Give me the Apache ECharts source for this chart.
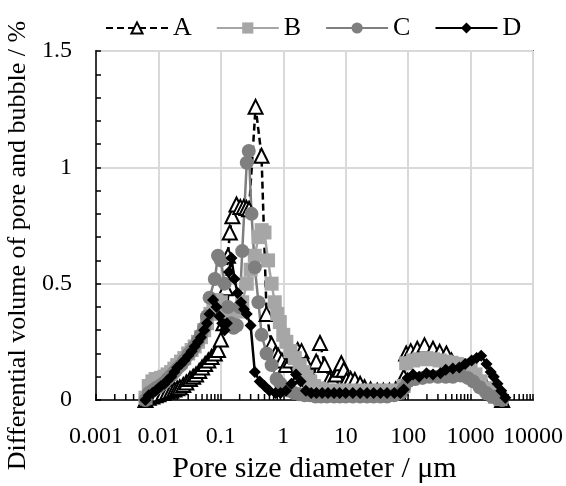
<!DOCTYPE html>
<html>
<head>
<meta charset="utf-8">
<script src="https://cdn.jsdelivr.net/npm/echarts@6/dist/echarts.min.js"></script>
<style>
html, body { margin: 0; padding: 0; background: #fff; }
#container { width: 566px; height: 486px; }
</style>
</head>
<body>
<div id="container"></div>
<script>
var seriesNames = ['A', 'B', 'C', 'D'];
var xTickLabels = ['0.001', '0.01', '0.1', '1', '10', '100', '1000', '10000'];

var aX = [0.0062, 0.007, 0.008, 0.009, 0.01, 0.012, 0.014, 0.016, 0.018, 0.02, 0.022, 0.025, 0.028, 0.032, 0.036, 0.04, 0.045, 0.05, 0.056, 0.063, 0.071, 0.08, 0.09, 0.1, 0.11, 0.12, 0.13, 0.139, 0.153, 0.178, 0.205, 0.233, 0.257, 0.283, 0.36, 0.448, 0.54, 0.65, 0.75, 0.83, 0.95, 1.1, 1.3, 1.5, 1.7, 1.96, 2.3, 2.7, 3.0, 3.37, 3.87, 4.6, 5.5, 6.2, 7.0, 8.0, 8.5, 9.3, 10.3, 12, 14, 17, 20, 25, 32, 40, 50, 63, 75, 85, 93, 110, 140, 183, 250, 320, 410, 495, 600, 750, 900, 1100, 1400, 1700, 2100, 2600, 3200];
var aY = [0.0, 0.01, 0.015, 0.02, 0.025, 0.03, 0.035, 0.04, 0.045, 0.05, 0.055, 0.065, 0.075, 0.09, 0.1, 0.11, 0.125, 0.14, 0.155, 0.17, 0.185, 0.2, 0.215, 0.26, 0.33, 0.48, 0.62, 0.72, 0.79, 0.84, 0.83, 0.83, 0.825, 0.82, 1.26, 1.05, 0.37, 0.24, 0.2, 0.19, 0.17, 0.15, 0.17, 0.19, 0.215, 0.21, 0.16, 0.11, 0.08, 0.165, 0.245, 0.15, 0.09, 0.086, 0.11, 0.13, 0.158, 0.13, 0.086, 0.09, 0.086, 0.07, 0.055, 0.045, 0.04, 0.04, 0.04, 0.045, 0.05, 0.1, 0.2, 0.21, 0.22, 0.235, 0.22, 0.207, 0.2, 0.17, 0.15, 0.14, 0.13, 0.12, 0.09, 0.07, 0.04, 0.02, 0.0];

var bX = [0.0062, 0.007, 0.008, 0.009, 0.01, 0.011, 0.0125, 0.014, 0.016, 0.018, 0.02, 0.023, 0.026, 0.03, 0.034, 0.038, 0.043, 0.048, 0.054, 0.06, 0.068, 0.076, 0.085, 0.1, 0.12, 0.15, 0.19, 0.22, 0.26, 0.3, 0.35, 0.4, 0.45, 0.5, 0.57, 0.65, 0.73, 0.8, 0.88, 1.0, 1.12, 1.3, 1.53, 1.83, 2.1, 2.36, 2.7, 3.1, 3.6, 4.2, 5, 6, 7.5, 9, 11, 14, 18, 23, 30, 38, 48, 60, 75, 85, 93, 120, 150, 197, 250, 320, 400, 495, 600, 720, 850, 1000, 1200, 1450, 1750, 2100, 2500, 3000];
var bY = [0.01, 0.06, 0.08, 0.09, 0.09, 0.095, 0.1, 0.11, 0.12, 0.135, 0.15, 0.165, 0.18, 0.2, 0.215, 0.23, 0.25, 0.27, 0.3, 0.33, 0.37, 0.4, 0.43, 0.42, 0.38, 0.36, 0.38, 0.42, 0.5, 0.56, 0.62, 0.7, 0.73, 0.72, 0.6, 0.5, 0.42, 0.37, 0.335, 0.28, 0.25, 0.21, 0.18, 0.15, 0.12, 0.1, 0.08, 0.06, 0.05, 0.045, 0.04, 0.04, 0.04, 0.04, 0.04, 0.04, 0.04, 0.04, 0.04, 0.04, 0.04, 0.04, 0.04, 0.06, 0.158, 0.17, 0.175, 0.18, 0.175, 0.17, 0.165, 0.16, 0.155, 0.15, 0.14, 0.13, 0.11, 0.08, 0.05, 0.03, 0.015, 0.005];

var cX = [0.0062, 0.007, 0.008, 0.009, 0.01, 0.011, 0.0125, 0.014, 0.016, 0.018, 0.02, 0.023, 0.026, 0.03, 0.034, 0.038, 0.043, 0.048, 0.054, 0.06, 0.066, 0.08, 0.09, 0.1, 0.115, 0.13, 0.145, 0.16, 0.18, 0.2, 0.22, 0.26, 0.28, 0.31, 0.35, 0.4, 0.45, 0.54, 0.65, 0.78, 0.9, 1.05, 1.25, 1.5, 1.8, 2.2, 2.7, 3.3, 4, 5, 6.5, 8, 10, 13, 17, 22, 28, 36, 46, 60, 75, 85, 100, 130, 170, 220, 300, 400, 520, 700, 900, 1100, 1400, 1800, 2200, 2700, 3200];
var cY = [0.0, 0.03, 0.04, 0.05, 0.055, 0.065, 0.075, 0.09, 0.105, 0.12, 0.135, 0.15, 0.17, 0.195, 0.21, 0.23, 0.255, 0.28, 0.31, 0.36, 0.44, 0.52, 0.62, 0.6, 0.5, 0.4, 0.33, 0.31, 0.32, 0.4, 0.64, 1.02, 1.07, 0.8, 0.57, 0.42, 0.28, 0.2, 0.15, 0.09, 0.07, 0.05, 0.04, 0.03, 0.025, 0.02, 0.02, 0.015, 0.015, 0.015, 0.015, 0.015, 0.015, 0.015, 0.015, 0.015, 0.015, 0.015, 0.015, 0.02, 0.03, 0.05, 0.08, 0.09, 0.095, 0.1, 0.1, 0.1, 0.1, 0.105, 0.095, 0.08, 0.055, 0.03, 0.015, 0.005, 0.0];

var dX = [0.0062, 0.007, 0.008, 0.009, 0.01, 0.011, 0.0125, 0.014, 0.016, 0.018, 0.02, 0.023, 0.026, 0.03, 0.034, 0.038, 0.043, 0.048, 0.054, 0.06, 0.066, 0.075, 0.085, 0.095, 0.105, 0.115, 0.125, 0.135, 0.148, 0.165, 0.185, 0.21, 0.235, 0.26, 0.3, 0.35, 0.42, 0.5, 0.6, 0.75, 0.9, 1.1, 1.35, 1.6, 1.9, 2.3, 2.8, 3.4, 4.2, 5.2, 6.5, 8, 10, 13, 17, 22, 28, 36, 46, 60, 75, 85, 98, 120, 150, 197, 250, 330, 400, 520, 660, 820, 1040, 1250, 1480, 1800, 2100, 2350, 2700, 3100, 3600];
var dY = [0.0, 0.02, 0.03, 0.04, 0.05, 0.06, 0.07, 0.085, 0.1, 0.12, 0.14, 0.155, 0.17, 0.19, 0.21, 0.23, 0.25, 0.27, 0.3, 0.33, 0.37, 0.43, 0.4, 0.36, 0.33, 0.3, 0.33, 0.55, 0.61, 0.52, 0.46, 0.42, 0.39, 0.37, 0.32, 0.12, 0.08, 0.06, 0.04, 0.03, 0.03, 0.04, 0.07, 0.11, 0.08, 0.04, 0.03, 0.03, 0.03, 0.03, 0.03, 0.03, 0.03, 0.03, 0.03, 0.03, 0.03, 0.03, 0.03, 0.03, 0.03, 0.045, 0.095, 0.11, 0.1, 0.115, 0.11, 0.115, 0.13, 0.135, 0.14, 0.155, 0.17, 0.18, 0.19, 0.155, 0.12, 0.1, 0.07, 0.04, 0.01];

function pairs(xs, ys) {
    return xs.map(function (x, i) { return [x, ys[i]]; });
}

// log minor ticks (2..9 in every decade), drawn inside the x axis
var minorTicks = [];
for (var k = -3; k < 4; k++) {
    for (var m = 2; m <= 9; m++) {
        minorTicks.push([m * Math.pow(10, k), 0]);
    }
}

var font = '"Liberation Serif", "Times New Roman", serif';

var dom = document.getElementById('container');
var myChart = echarts.init(dom, null, {renderer: 'canvas'});

var option = {
    animation: false,
    backgroundColor: '#fff',
    textStyle: {fontFamily: font, color: '#000'},
    legend: {
        data: seriesNames,
        top: 10,
        left: 100,
        itemWidth: 62,
        itemHeight: 14,
        itemGap: 24,
        textStyle: {fontFamily: font, fontSize: 26, color: '#000'}
    },
    grid: {
        left: 96,
        right: 33,
        top: 51,
        bottom: 86,
        show: true,
        borderColor: '#000',
        borderWidth: 1.5,
        containLabel: false,
        outerBoundsMode: 'none'
    },
    xAxis: {
        type: 'log',
        logBase: 10,
        min: 0.001,
        max: 10000,
        name: 'Pore size diameter / \u03bcm',
        nameLocation: 'middle',
        nameGap: 52,
        nameTextStyle: {fontFamily: font, fontSize: 30, color: '#000'},
        axisLine: {lineStyle: {color: '#000', width: 1.5}},
        axisTick: {show: true, inside: true, length: 6, lineStyle: {color: '#000', width: 1.5}},
        axisLabel: {
            fontFamily: font, fontSize: 24, color: '#000', margin: 25,
            formatter: function (v) {
                return xTickLabels[Math.round(Math.log10(v)) + 3];
            }
        },
        splitLine: {show: true, lineStyle: {color: '#d9d9d9', width: 2}}
    },
    yAxis: {
        type: 'value',
        min: 0,
        max: 1.5,
        interval: 0.5,
        name: 'Differential volume of pore and bubble / %',
        nameLocation: 'middle',
        nameGap: 62,
        nameTextStyle: {fontFamily: font, fontSize: 26, color: '#000', padding: [0, 40, 0, 0]},
        axisLine: {show: true, lineStyle: {color: '#000', width: 1.5}},
        axisTick: {show: true, inside: true, length: 5, lineStyle: {color: '#000', width: 1.5}},
        minorTick: {show: true, splitNumber: 5, length: 5, lineStyle: {color: '#000', width: 1.5}},
        axisLabel: {fontFamily: font, fontSize: 24, color: '#000', margin: 24},
        splitLine: {show: true, lineStyle: {color: '#d9d9d9', width: 2}}
    },
    series: [
        {
            name: 'ticks',
            type: 'custom',
            silent: true,
            data: minorTicks,
            renderItem: function (params, api) {
                var p = api.coord([api.value(0), 0]);
                return {
                    type: 'line',
                    shape: {x1: p[0], y1: p[1], x2: p[0], y2: p[1] - 6},
                    style: {stroke: '#000', lineWidth: 1.5}
                };
            }
        },
        {
            name: 'A',
            type: 'line',
            data: pairs(aX, aY),
            symbol: 'triangle',
            symbolSize: 14,
            lineStyle: {color: '#000', width: 2.5, type: [7, 4]},
            itemStyle: {color: '#fff', borderColor: '#000', borderWidth: 2}
        },
        {
            name: 'B',
            type: 'line',
            data: pairs(bX, bY),
            symbol: 'rect',
            symbolSize: 14,
            lineStyle: {color: '#a6a6a6', width: 2.5},
            itemStyle: {color: '#a6a6a6', borderColor: '#a6a6a6', borderWidth: 0}
        },
        {
            name: 'C',
            type: 'line',
            data: pairs(cX, cY),
            symbol: 'circle',
            symbolSize: 14,
            lineStyle: {color: '#7f7f7f', width: 2.5},
            itemStyle: {color: '#7f7f7f', borderColor: '#7f7f7f', borderWidth: 0}
        },
        {
            name: 'D',
            type: 'line',
            data: pairs(dX, dY),
            symbol: 'diamond',
            symbolSize: 12,
            lineStyle: {color: '#000', width: 2.5},
            itemStyle: {color: '#000', borderColor: '#000', borderWidth: 0}
        }
    ]
};

if (option && typeof option === 'object') {
    myChart.setOption(option, true);
}
</script>
</body>
</html>
